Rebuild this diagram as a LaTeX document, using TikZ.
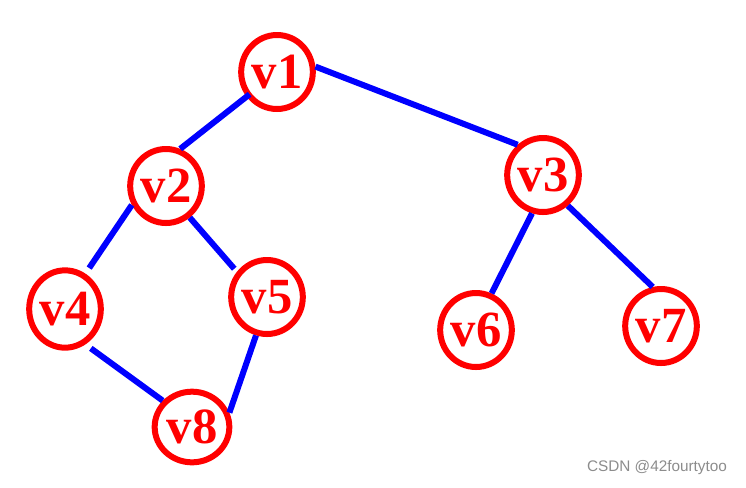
\documentclass[tikz,border=0pt]{standalone}
\usepackage{fontspec}
\setmainfont{Liberation Serif}
\newfontfamily\marksans{Liberation Sans}
\usepackage{xcolor}
\usepackage{tikz}
\usetikzlibrary{shapes.geometric}

\begin{document}
\begin{tikzpicture}[
x=0.75pt, y=-0.75pt,
vnode/.style={ellipse, draw=red, line width=4.5pt, text=red, inner sep=0pt,
minimum width=48pt, minimum height=55.5pt,
font=\fontsize{38}{40}\selectfont\bfseries},
vedge/.style={blue, line width=4.5pt}
]
\useasboundingbox (0,0) rectangle (746,487);

\node[vnode] (v1) at (277,72) {v1};
\node[vnode] (v2) at (166,186) {v2};
\node[vnode] (v3) at (543,175) {v3};
\node[vnode, minimum width=51pt, minimum height=58pt] (v4) at (65,309) {v4};
\node[vnode] (v5) at (267,297) {v5};
\node[vnode] (v6) at (476,330) {v6};
\node[vnode] (v7) at (661,326) {v7};
\node[vnode, minimum width=56pt, minimum height=53pt] (v8) at (192,427) {v8};

\draw[vedge, shorten <=-3pt] (v1.219) -- (v2.69);
\draw[vedge] (v1.8) -- (v3.130);
\draw[vedge, shorten >=5pt] (v2.209) -- (v4.60);
\draw[vedge, shorten >=3pt] (v2.307) -- (v5.140);
\draw[vedge] (v3.254) -- (v6.67);
\draw[vedge] (v3.309) -- (v7.102);
\draw[vedge, shorten <=5pt] (v4.300) -- (v8.138);
\draw[vedge] (v5.254) -- (v8.21);

\node[text=black!45, font=\marksans\fontsize{11.5}{13}\selectfont] (mark) at (657,468) {CSDN @42fourtytoo};

\end{tikzpicture}
\end{document}
